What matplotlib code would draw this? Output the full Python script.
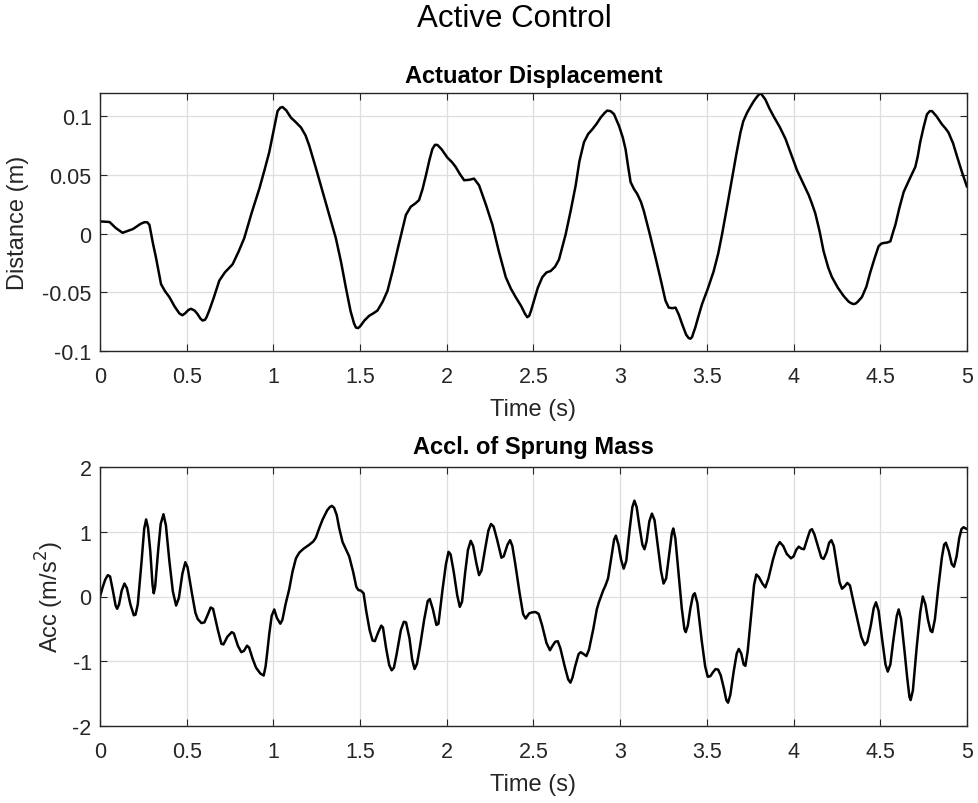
import matplotlib
matplotlib.use("Agg")
import matplotlib.pyplot as plt

# ---- data -----------------------------------------------------------------
disp_t = [0.0, 0.055, 0.09, 0.13, 0.19, 0.235, 0.256, 0.272, 0.285, 0.305, 0.323,
          0.352, 0.375, 0.40, 0.43, 0.458, 0.475, 0.49, 0.51, 0.525, 0.545, 0.56, 0.58,
          0.592, 0.605, 0.615, 0.63,
          0.655, 0.688, 0.72, 0.765, 0.80, 0.832, 0.875, 0.919, 0.95, 0.976,
          1.0, 1.024, 1.04, 1.053, 1.075, 1.101, 1.13, 1.159, 1.185, 1.207,
          1.245, 1.284, 1.32, 1.36, 1.39, 1.418, 1.445, 1.465, 1.476, 1.488, 1.50, 1.525,
          1.552, 1.575, 1.60, 1.63, 1.658, 1.687, 1.72, 1.764, 1.792, 1.82,
          1.84, 1.86, 1.88, 1.90, 1.917, 1.932, 1.946, 1.97, 2.003, 2.03, 2.051,
          2.075, 2.10, 2.13, 2.157, 2.186, 2.225, 2.263, 2.30, 2.34, 2.37,
          2.397, 2.43, 2.45, 2.464, 2.475, 2.485, 2.503, 2.525, 2.551, 2.575, 2.599, 2.625,
          2.647, 2.665, 2.685, 2.715, 2.743, 2.765, 2.791, 2.815, 2.839, 2.865,
          2.887, 2.91, 2.925, 2.945, 2.964, 2.993, 3.015, 3.031, 3.045, 3.06,
          3.08, 3.098, 3.12, 3.137, 3.17, 3.204, 3.235, 3.261, 3.28, 3.30,
          3.319, 3.338, 3.357, 3.38, 3.395, 3.405, 3.415, 3.42, 3.433, 3.45, 3.472, 3.505,
          3.539, 3.565, 3.587, 3.615, 3.645, 3.67, 3.693, 3.71, 3.731, 3.75,
          3.77, 3.79, 3.80, 3.808, 3.815, 3.822, 3.837, 3.86, 3.885, 3.92, 3.953, 3.985,
          4.02, 4.055, 4.087, 4.105, 4.125, 4.15, 4.173, 4.20, 4.221, 4.255,
          4.288, 4.318, 4.335, 4.346, 4.358, 4.37, 4.394, 4.42, 4.442, 4.467, 4.49, 4.505,
          4.519, 4.54, 4.558, 4.575, 4.587, 4.61, 4.635, 4.67, 4.702, 4.716,
          4.73, 4.75, 4.769, 4.785, 4.798, 4.825, 4.855, 4.875, 4.893, 4.92,
          4.941, 4.97, 5.0]
disp_m = [0.0105, 0.0100, 0.005, 0.0008, 0.004, 0.0085, 0.0098, 0.0098, 0.0076, -0.008, -0.0205,
          -0.043, -0.049, -0.054, -0.062, -0.068, -0.0695, -0.068, -0.065, -0.064, -0.0655, -0.068, -0.0725,
          -0.074, -0.0735, -0.071, -0.0655,
          -0.055, -0.040, -0.033, -0.026, -0.015, -0.0037, 0.018, 0.0385, 0.055, 0.0695,
          0.087, 0.1046, 0.1075, 0.108, 0.105, 0.099, 0.095, 0.0906, 0.084, 0.075,
          0.056, 0.0357, 0.017, -0.0037, -0.024, -0.046, -0.066, -0.0765, -0.080, -0.0805, -0.079, -0.074,
          -0.070, -0.068, -0.0655, -0.058, -0.0487, -0.032, -0.011, 0.016, 0.023, 0.026,
          0.0287, 0.038, 0.050, 0.063, 0.0723, 0.0758, 0.0757, 0.072, 0.065, 0.061, 0.057,
          0.051, 0.0456, 0.046, 0.047, 0.0413, 0.025, 0.0076, -0.015, -0.037, -0.047,
          -0.054, -0.062, -0.068, -0.0712, -0.070, -0.066, -0.057, -0.046, -0.037, -0.033, -0.0318, -0.028,
          -0.022, -0.012, -0.0008, 0.020, 0.041, 0.062, 0.078, 0.085, 0.089, 0.094,
          0.099, 0.103, 0.105, 0.1045, 0.102, 0.092, 0.082, 0.072, 0.058, 0.044,
          0.038, 0.034, 0.027, 0.019, 0.000, -0.0205, -0.040, -0.057, -0.063, -0.0635,
          -0.063, -0.069, -0.077, -0.086, -0.089, -0.0895, -0.088, -0.0855, -0.080, -0.071, -0.060, -0.047,
          -0.032, -0.017, -0.0008, 0.022, 0.047, 0.068, 0.086, 0.096, 0.103, 0.108,
          0.113, 0.117, 0.1187, 0.1195, 0.119, 0.1175, 0.1145, 0.107, 0.100, 0.091, 0.081, 0.068,
          0.054, 0.043, 0.033, 0.026, 0.0174, 0.002, -0.015, -0.029, -0.037, -0.046,
          -0.053, -0.058, -0.0595, -0.060, -0.0595, -0.058, -0.054, -0.045, -0.033, -0.021, -0.0107, -0.0085,
          -0.0079, -0.0075, -0.0065, 0.002, 0.0076, 0.022, 0.0357, 0.047, 0.057, 0.066,
          0.078, 0.091, 0.1018, 0.1045, 0.1046, 0.100, 0.0934, 0.090, 0.0864, 0.077,
          0.0667, 0.053, 0.040]

acc_t = [0.0, 0.015, 0.03, 0.045, 0.058, 0.075, 0.09, 0.099, 0.11, 0.125,
         0.141, 0.155, 0.175, 0.195, 0.205, 0.218, 0.24, 0.255, 0.266, 0.277,
         0.29, 0.303, 0.31, 0.318, 0.335, 0.35, 0.366, 0.38, 0.40, 0.42,
         0.439, 0.455, 0.475, 0.492, 0.505, 0.53, 0.55, 0.564, 0.585, 0.602,
         0.62, 0.638, 0.652, 0.68, 0.70, 0.712, 0.735, 0.76, 0.772, 0.795,
         0.815, 0.83, 0.848, 0.86, 0.88, 0.90, 0.925, 0.944, 0.955, 0.965,
         0.976, 0.99, 1.005, 1.02, 1.04, 1.052, 1.07, 1.091, 1.11, 1.13,
         1.15, 1.175, 1.207, 1.23, 1.245, 1.265, 1.284, 1.31, 1.325, 1.337,
         1.35, 1.365, 1.38, 1.399, 1.42, 1.437, 1.46, 1.478, 1.49, 1.505,
         1.52, 1.535, 1.555, 1.572, 1.585, 1.605, 1.622, 1.632, 1.65, 1.668,
         1.682, 1.695, 1.71, 1.735, 1.752, 1.765, 1.785, 1.80, 1.814, 1.828,
         1.845, 1.87, 1.89, 1.902, 1.92, 1.94, 1.952, 1.975, 1.995, 2.01,
         2.022, 2.04, 2.06, 2.075, 2.088, 2.105, 2.122, 2.138, 2.152, 2.17,
         2.186, 2.20, 2.222, 2.24, 2.255, 2.27, 2.29, 2.315, 2.328, 2.35,
         2.365, 2.378, 2.395, 2.42, 2.44, 2.455, 2.475, 2.493, 2.512, 2.53,
         2.55, 2.575, 2.595, 2.61, 2.625, 2.64, 2.655, 2.68, 2.70, 2.713,
         2.725, 2.74, 2.76, 2.772, 2.79, 2.805, 2.82, 2.845, 2.865, 2.877,
         2.90, 2.915, 2.93, 2.95, 2.965, 2.975, 2.99, 3.005, 3.02, 3.035,
         3.055, 3.07, 3.082, 3.095, 3.11, 3.128, 3.14, 3.152, 3.168, 3.183,
         3.198, 3.215, 3.235, 3.25, 3.265, 3.285, 3.298, 3.306, 3.318, 3.335,
         3.355, 3.37, 3.378, 3.39, 3.405, 3.42, 3.43, 3.445, 3.47, 3.49,
         3.505, 3.52, 3.535, 3.55, 3.565, 3.58, 3.598, 3.612, 3.622, 3.635,
         3.655, 3.672, 3.684, 3.698, 3.712, 3.722, 3.735, 3.755, 3.772, 3.785,
         3.80, 3.82, 3.837, 3.855, 3.88, 3.902, 3.92, 3.94, 3.96, 3.985,
         4.0, 4.015, 4.03, 4.045, 4.06, 4.08, 4.095, 4.106, 4.12, 4.14,
         4.16, 4.173, 4.19, 4.205, 4.218, 4.232, 4.25, 4.265, 4.279, 4.295,
         4.31, 4.325, 4.345, 4.365, 4.39, 4.41, 4.425, 4.445, 4.462, 4.475,
         4.49, 4.51, 4.53, 4.543, 4.558, 4.575, 4.595, 4.606, 4.62, 4.64,
         4.655, 4.668, 4.675, 4.688, 4.71, 4.73, 4.745, 4.76, 4.775, 4.79,
         4.80, 4.815, 4.835, 4.855, 4.868, 4.878, 4.895, 4.912, 4.925, 4.94,
         4.955, 4.968, 4.98, 5.0]
acc_ms2 = [0.0, 0.14, 0.26, 0.33, 0.31, 0.08, -0.14, -0.19, -0.12, 0.09,
           0.20, 0.13, -0.12, -0.29, -0.28, -0.12, 0.55, 1.05, 1.19, 1.06,
           0.70, 0.18, 0.05, 0.15, 0.70, 1.12, 1.27, 1.10, 0.55, 0.08,
           -0.14, -0.02, 0.35, 0.53, 0.45, 0.05, -0.25, -0.35, -0.41, -0.40,
           -0.29, -0.17, -0.19, -0.52, -0.73, -0.74, -0.62, -0.55, -0.57, -0.76,
           -0.86, -0.84, -0.76, -0.79, -0.96, -1.10, -1.19, -1.22, -1.08, -0.85,
           -0.58, -0.30, -0.20, -0.33, -0.42, -0.36, -0.12, 0.11, 0.38, 0.59,
           0.68, 0.74, 0.80, 0.85, 0.91, 1.06, 1.19, 1.33, 1.38, 1.40,
           1.37, 1.26, 1.05, 0.84, 0.72, 0.62, 0.38, 0.15, 0.10, 0.09,
           0.05, -0.22, -0.52, -0.68, -0.69, -0.55, -0.45, -0.48, -0.80, -1.06,
           -1.14, -1.10, -0.90, -0.52, -0.39, -0.40, -0.65, -0.97, -1.12, -1.04,
           -0.78, -0.35, -0.07, -0.04, -0.20, -0.44, -0.42, 0.10, 0.50, 0.69,
           0.65, 0.38, 0.02, -0.16, -0.08, 0.35, 0.72, 0.86, 0.78, 0.52,
           0.33, 0.40, 0.75, 1.02, 1.12, 1.08, 0.88, 0.60, 0.62, 0.80,
           0.87, 0.78, 0.50, 0.05, -0.27, -0.34, -0.26, -0.245, -0.24, -0.27,
           -0.45, -0.72, -0.83, -0.76, -0.70, -0.69, -0.80, -1.08, -1.28, -1.33,
           -1.25, -1.08, -0.89, -0.86, -0.89, -0.92, -0.82, -0.50, -0.20, -0.09,
           0.08, 0.17, 0.28, 0.62, 0.88, 0.94, 0.80, 0.57, 0.43, 0.55,
           1.05, 1.38, 1.48, 1.38, 1.10, 0.80, 0.73, 0.85, 1.16, 1.28,
           1.18, 0.82, 0.40, 0.20, 0.28, 0.70, 0.98, 1.05, 0.90, 0.40,
           -0.18, -0.50, -0.55, -0.45, -0.18, 0.02, 0.05, -0.10, -0.68, -1.08,
           -1.24, -1.23, -1.17, -1.12, -1.13, -1.22, -1.42, -1.60, -1.64, -1.52,
           -1.15, -0.88, -0.81, -0.88, -1.05, -1.07, -0.85, -0.30, 0.18, 0.34,
           0.30, 0.20, 0.14, 0.28, 0.56, 0.76, 0.84, 0.78, 0.66, 0.59,
           0.62, 0.72, 0.77, 0.74, 0.73, 0.90, 1.02, 1.04, 0.96, 0.78,
           0.60, 0.58, 0.68, 0.83, 0.87, 0.78, 0.48, 0.22, 0.12, 0.16,
           0.21, 0.17, -0.08, -0.32, -0.62, -0.75, -0.70, -0.45, -0.18, -0.09,
           -0.22, -0.65, -1.05, -1.16, -1.05, -0.68, -0.30, -0.20, -0.35, -0.85,
           -1.25, -1.55, -1.60, -1.45, -0.78, -0.25, 0.00, -0.12, -0.36, -0.53,
           -0.55, -0.35, 0.15, 0.60, 0.80, 0.83, 0.70, 0.50, 0.46, 0.62,
           0.90, 1.04, 1.07, 1.04]

time_ticks = [0, 0.5, 1, 1.5, 2, 2.5, 3, 3.5, 4, 4.5, 5]
time_labels = ["0", "0.5", "1", "1.5", "2", "2.5", "3", "3.5", "4", "4.5", "5"]
disp_ticks = [-0.1, -0.05, 0, 0.05, 0.1]
disp_labels = ["-0.1", "-0.05", "0", "0.05", "0.1"]
acc_ticks = [-2, -1, 0, 1, 2]
acc_labels = ["-2", "-1", "0", "1", "2"]

# ---- style ------------------------------------------------------------------
plt.rcParams["font.family"] = ["Liberation Sans", "DejaVu Sans"]
INK = "#262626"
W, H = 979, 804

fig = plt.figure(figsize=(W / 100, H / 100), dpi=100)
fig.patch.set_facecolor("white")


def px_axes(left, top, right, bottom):
    return fig.add_axes([left / W, 1 - bottom / H, (right - left) / W, (bottom - top) / H])


def style(ax, yticks, ylabels, ylim):
    ax.set_xlim(0, 5)
    ax.set_ylim(*ylim)
    ax.set_xticks(time_ticks)
    ax.set_xticklabels(time_labels)
    ax.set_yticks(yticks)
    ax.set_yticklabels(ylabels)
    ax.grid(True, color="#dedede", linewidth=0.9)
    ax.set_axisbelow(True)
    ax.tick_params(direction="in", length=5, width=0.8, colors=INK,
                   labelsize=15.5, top=True, right=True)
    ax.tick_params(axis="x", pad=11)
    ax.tick_params(axis="y", pad=6)
    for s in ax.spines.values():
        s.set_color(INK)
        s.set_linewidth(1.0)


ax1 = px_axes(100, 94, 967, 352)
ax1.plot(disp_t, disp_m, color="black", linewidth=1.8,
         solid_joinstyle="round", solid_capstyle="round")
style(ax1, disp_ticks, disp_labels, (-0.1, 0.12))
ax1.set_title("Actuator Displacement", fontsize=17, fontweight="bold", color="black",
              y=1 + 18 / 258, pad=0, va="center")
ax1.set_xlabel("Time (s)", fontsize=17, color=INK, va="center")
ax1.xaxis.set_label_coords(0.5, -58 / 258)
ax1.set_ylabel("Distance (m)", fontsize=17, color=INK, va="center")
ax1.yaxis.set_label_coords(-82 / 867, 0.5)

ax2 = px_axes(100, 468, 967, 727)
ax2.plot(acc_t, acc_ms2, color="black", linewidth=1.8,
         solid_joinstyle="round", solid_capstyle="round")
style(ax2, acc_ticks, acc_labels, (-2, 2))
ax2.set_title("Accl. of Sprung Mass", fontsize=17, fontweight="bold", color="black",
              y=1 + 20 / 259, pad=0, va="center")
ax2.set_xlabel("Time (s)", fontsize=17, color=INK, va="center")
ax2.xaxis.set_label_coords(0.5, -58 / 259)
ax2.set_ylabel("Acc (m/s$^2$)", fontsize=17, color=INK, va="center")
ax2.yaxis.set_label_coords(-50 / 867, 0.5)

fig.suptitle("Active Control", x=514 / W, y=1 - 19 / H, fontsize=22.5, color="black",
             va="center")

fig.savefig("out.png", dpi=100, facecolor="white")
